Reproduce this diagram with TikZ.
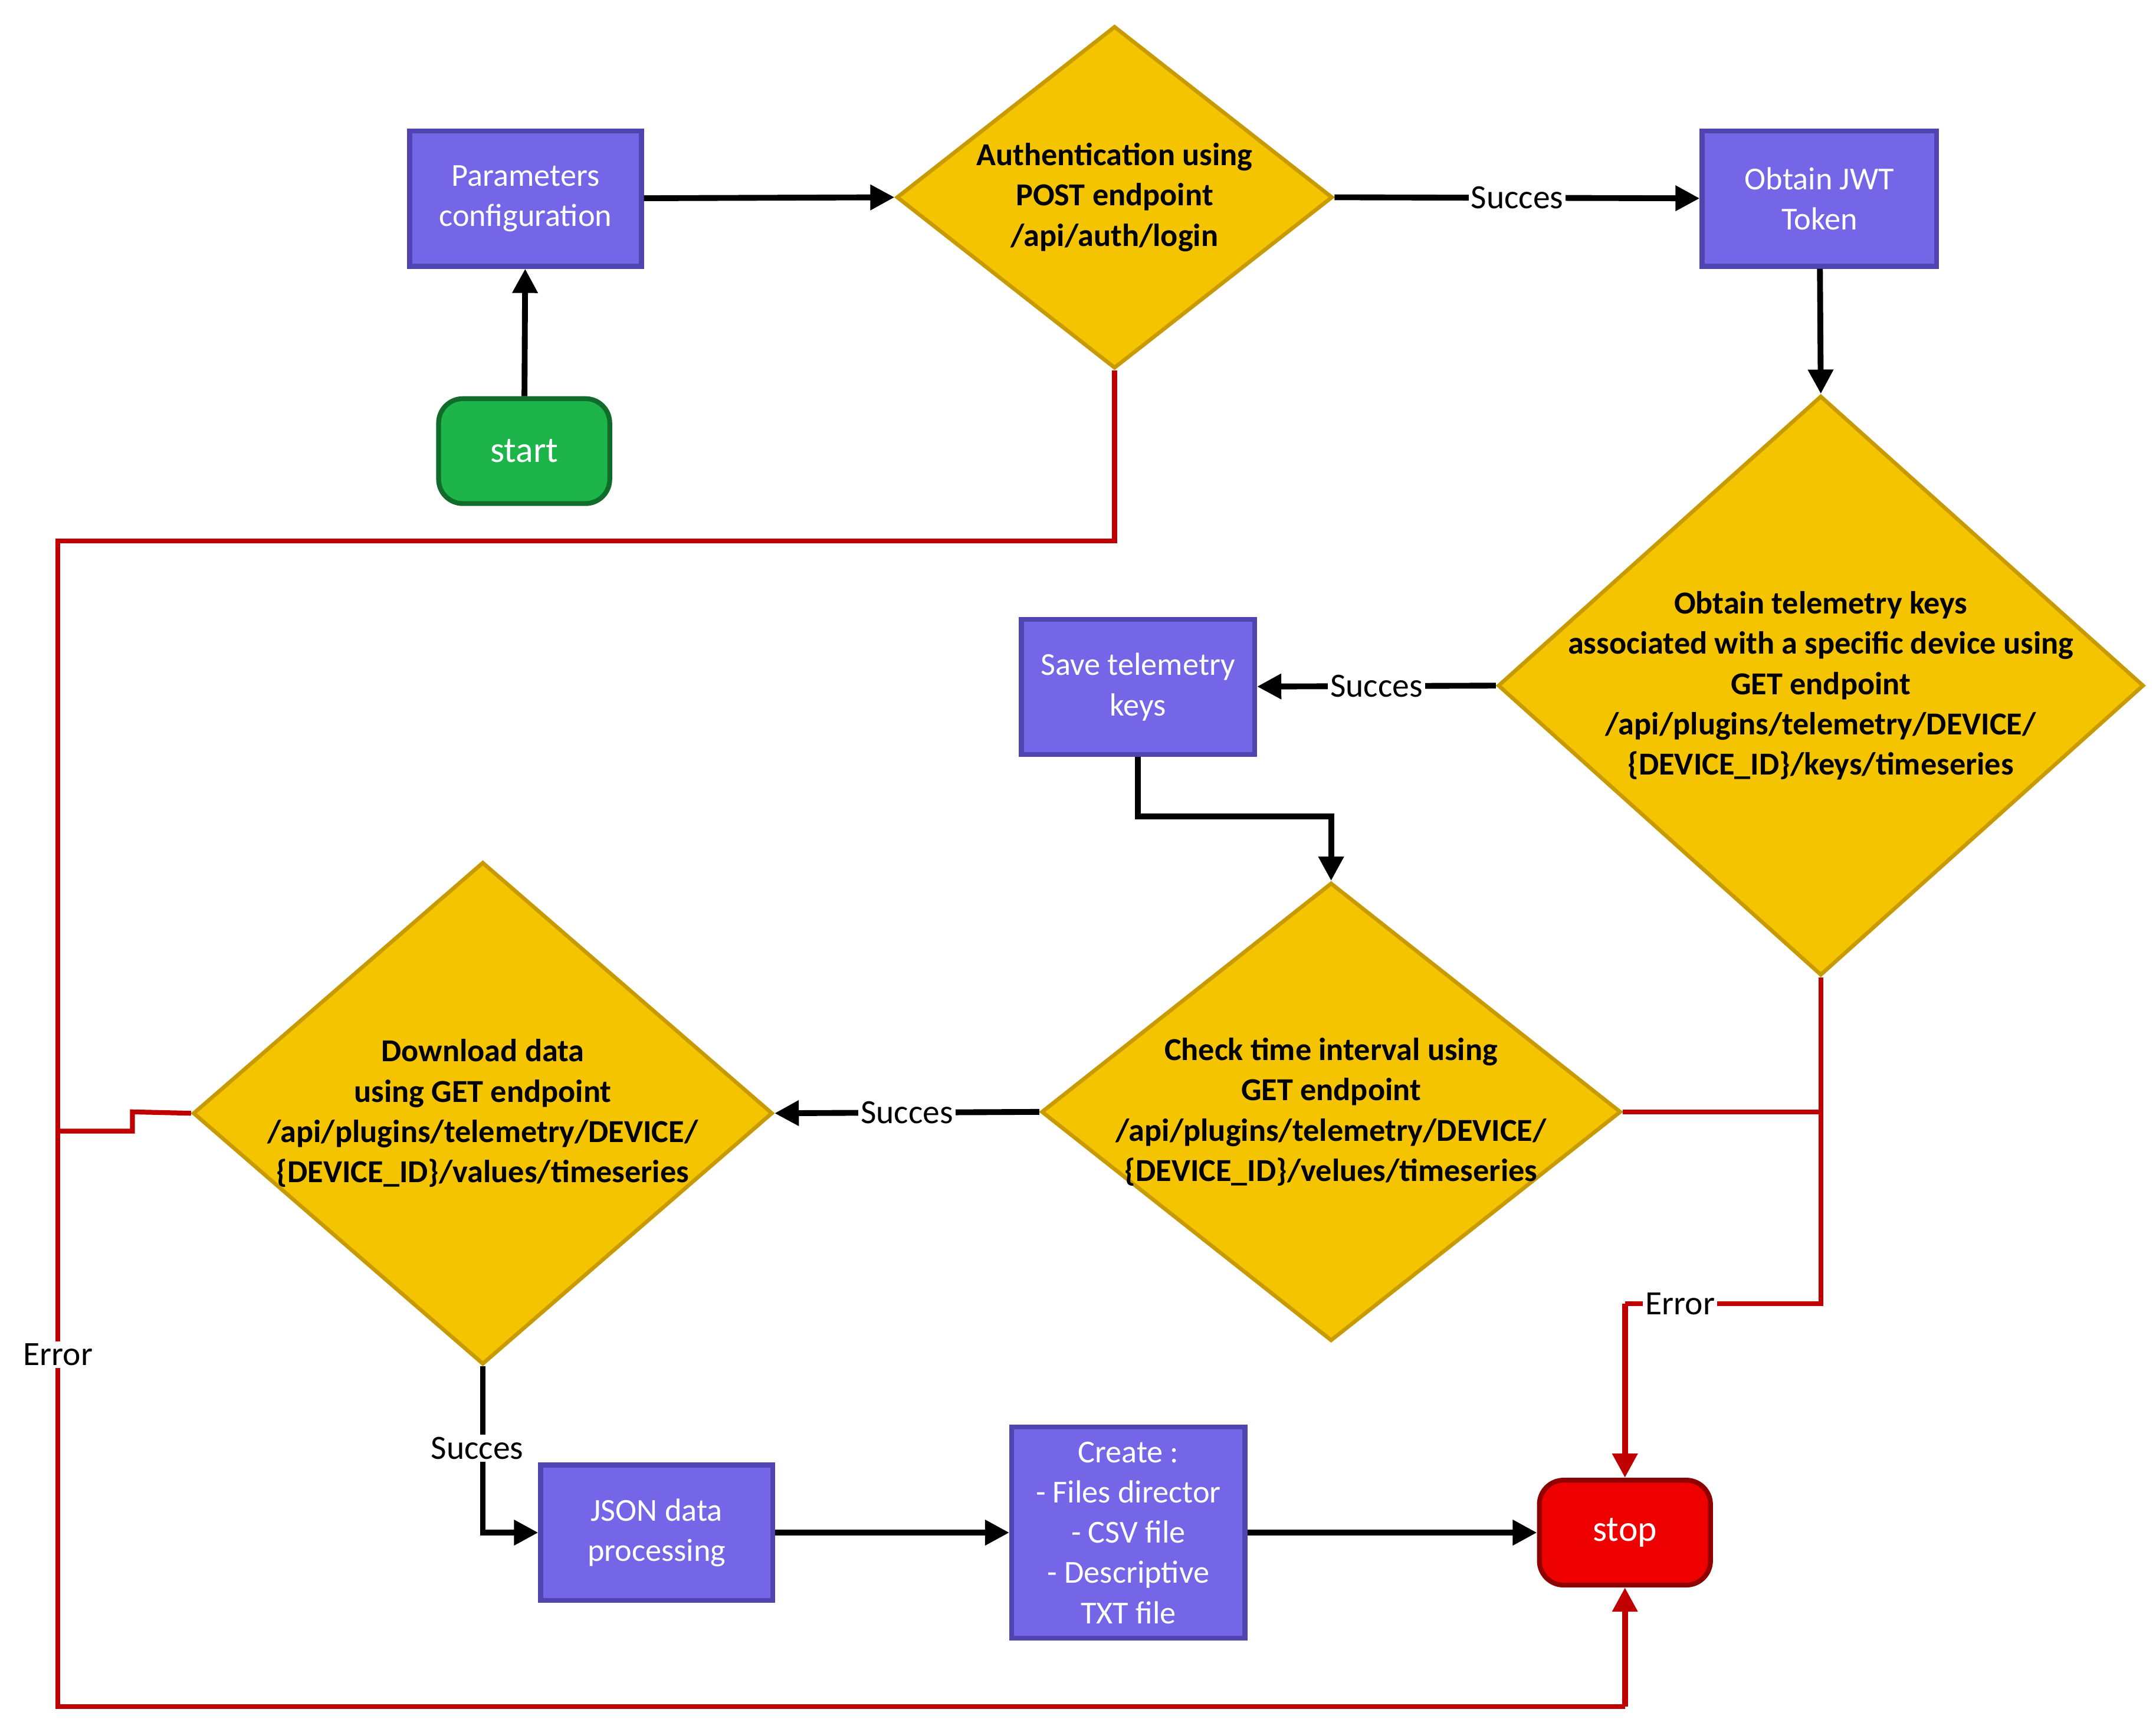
\documentclass[tikz,border=0pt]{standalone}
\usepackage{fontspec}
\setmainfont{Carlito}
\usetikzlibrary{shapes.geometric,arrows.meta}
\definecolor{boxc}{HTML}{7566E8}
\definecolor{boxb}{HTML}{4F44B0}
\definecolor{gold}{HTML}{F5C400}
\definecolor{goldb}{HTML}{C79A00}
\definecolor{redl}{HTML}{C00000}
\definecolor{startg}{HTML}{1DB44A}
\definecolor{stopr}{HTML}{EE0000}
\begin{document}
\begin{tikzpicture}[x=0.01cm,y=-0.01cm,
 every node/.style={font=\fontsize{6.6pt}{8.3pt}\selectfont},
 box/.style={draw=boxb,line width=1pt,fill=boxc,text=white,align=center,inner sep=0,minimum width=1.68cm,minimum height=0.98cm},
 dia/.style={diamond,draw=goldb,line width=0.8pt,fill=gold,inner sep=0},
 dtxt/.style={align=center,font=\fontsize{6.6pt}{8.3pt}\selectfont\bfseries},
 term/.style={rounded corners=5pt,draw=#1!60!black,line width=1pt,fill=#1,text=white,minimum width=1.24cm,minimum height=0.76cm,font=\fontsize{7.5pt}{9pt}\selectfont},
 blk/.style={line width=1.2pt,-{Triangle[length=5pt,width=5pt]}},
 red/.style={draw=redl,line width=1pt},
 lab/.style={fill=white,inner sep=0.5pt,font=\fontsize{7pt}{8pt}\selectfont}]
\useasboundingbox (0,0) rectangle (1563,1253);
\node[box] (par) at (381,144) {Parameters\\configuration};
\node[term=startg] (start) at (380,327) {start};
\node[dia,minimum width=3.16cm,minimum height=2.48cm] (auth) at (808,143) {};
\node[dtxt] at (808,143) {Authentication using\\POST endpoint\\/api/auth/login};
\node[box,minimum width=1.70cm] (jwt) at (1319,144) {Obtain JWT\\Token};
\node[dia,minimum width=4.68cm,minimum height=4.20cm] (tel) at (1320,497) {};
\node[dtxt] at (1320,497) {Obtain telemetry keys\\associated with a specific device using\\GET endpoint\\/api/plugins/telemetry/DEVICE/\\\{DEVICE\_ID\}/keys/timeseries};
\node[box,minimum width=1.69cm] (save) at (825,498) {Save telemetry\\keys};
\node[dia,minimum width=4.20cm,minimum height=3.32cm] (chk) at (965,806) {};
\node[dtxt] at (965,806) {Check time interval using\\GET endpoint\\/api/plugins/telemetry/DEVICE/\\\{DEVICE\_ID\}/velues/timeseries};
\node[dia,minimum width=4.20cm,minimum height=3.64cm] (dl) at (350,807) {};
\node[dtxt] at (350,807) {Download data\\using GET endpoint\\/api/plugins/telemetry/DEVICE/\\\{DEVICE\_ID\}/values/timeseries};
\node[box] (json) at (476,1111) {JSON data\\processing};
\node[box,minimum width=1.69cm,minimum height=1.53cm] (cre) at (818,1111) {Create :\\- Files director\\- CSV file\\- Descriptive\\TXT file};
\node[term=stopr] (stop) at (1178,1111) {stop};
% red error paths
\coordinate (a1) at (808,392); \coordinate (a2) at (42,392); \coordinate (a3) at (42,1237); \coordinate (a4) at (1178,1237);
\draw[red] (auth.south) -- (a1) -- (a2) -- (a3) -- (a4);
\draw[red,line width=1.2pt,-{Triangle[length=5pt,width=5pt]}] (a4) -- (stop.south);
\coordinate (d1) at (96,806); \coordinate (d2) at (96,820); \coordinate (d3) at (42,820);
\draw[red] (dl.west) -- (d1) -- (d2) -- (d3);
\node[lab] at (42,982) {Error};
\coordinate (t1) at (1320,806); \coordinate (t2) at (1320,945); \coordinate (t3) at (1178,945);
\draw[red] (tel.south) -- (t1) -- (t2) -- (t3);
\draw[red] (chk.east) -- (t1);
\draw[red,line width=1.2pt,-{Triangle[length=5pt,width=5pt]}] (t3) -- (stop.north);
\node[lab] at (1218,945) {Error};
% black
\draw[blk] (start) -- (par);
\draw[blk] (par) -- (auth.west);
\draw[blk] (auth.east) -- node[lab]{Succes} (jwt);
\draw[blk] (jwt) -- (tel.north);
\draw[blk] (tel.west) -- node[lab]{Succes} (save);
\coordinate (s1) at (825,592); \coordinate (s2) at (965,592);
\draw[blk] (save.south) -- (s1) -- (s2) -- (chk.north);
\draw[blk] (chk.west) -- node[lab]{Succes} (dl.east);
\coordinate (j1) at (350,1111);
\draw[blk] (dl.south) -- (j1) -- (json.west);
\node[lab] at (346,1050) {Succes};
\draw[blk] (json) -- (cre);
\draw[blk] (cre) -- (stop);
\end{tikzpicture}
\end{document}
